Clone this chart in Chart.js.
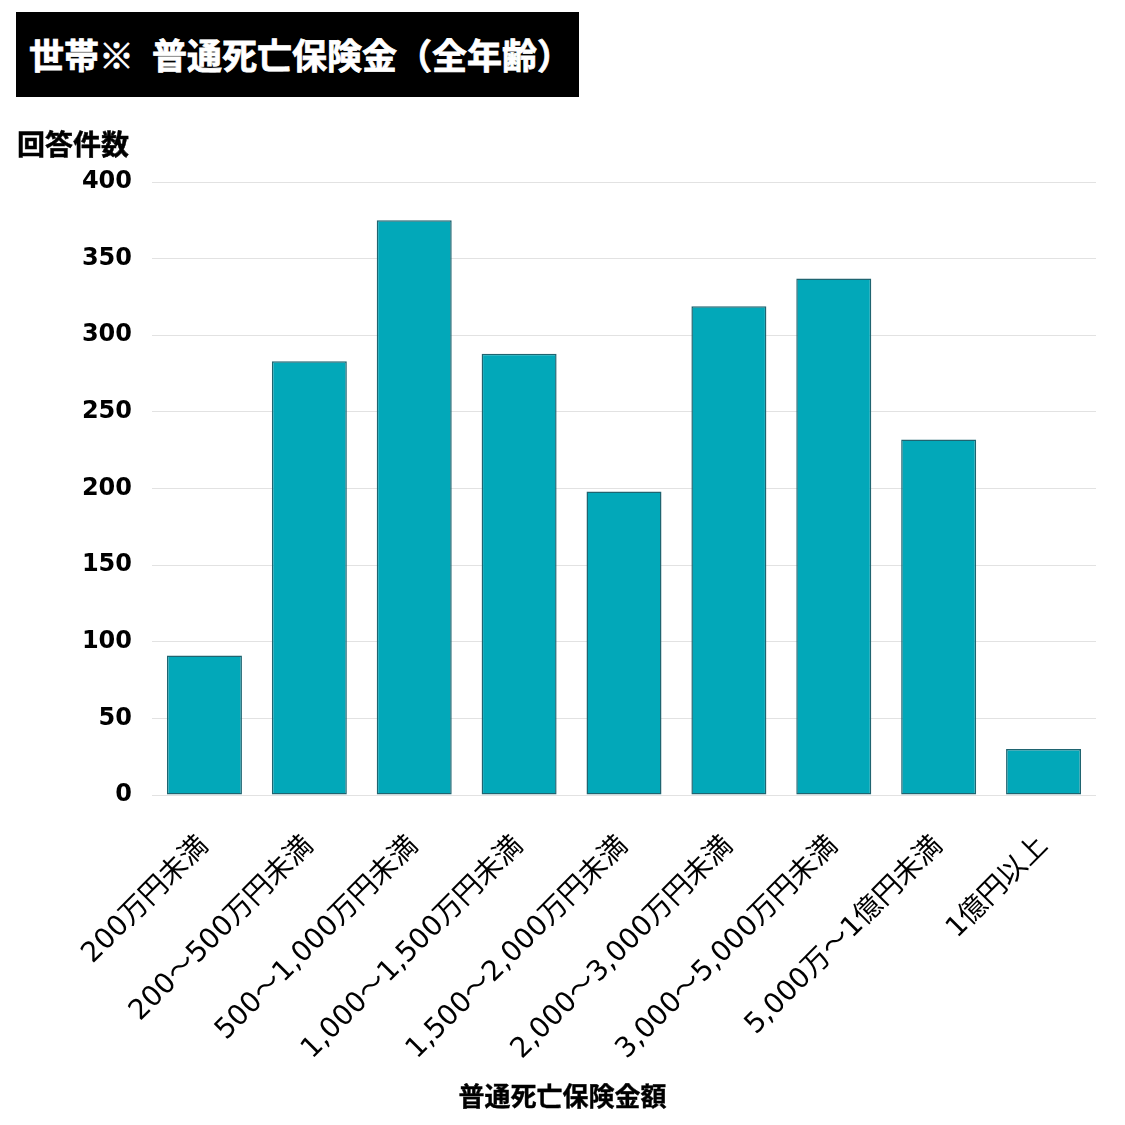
<!DOCTYPE html>
<html lang="ja">
<head>
  <meta charset="UTF-8">
  <title>世帯※ 普通死亡保険金（全年齢）</title>
  <script src="https://cdn.jsdelivr.net/npm/chart.js"></script>
  <style>
    html, body { margin: 0; padding: 0; background: #fff; }
    body { width: 1125px; height: 1125px; position: relative; overflow: hidden;
           font-family: "Noto Sans CJK JP", sans-serif; }
    #titulo { position: absolute; left: 16px; top: 12px; width: 563px; height: 85px;
              background: #000; color: #fff; font-weight: bold; font-size: 35px;
              -webkit-text-stroke: 0.8px #fff;
              line-height: 84px; padding-left: 13px; box-sizing: border-box; white-space: nowrap; }
    #titulo .sp { display: inline-block; width: 18px; }
    #ylabel { position: absolute; left: 17px; top: 124px; font-size: 28px; font-weight: bold;
              -webkit-text-stroke: 0.5px #000;
              line-height: 38px; color: #000; }
    #xlabel { position: absolute; left: 0; width: 1125px; text-align: center; top: 1076px;
              font-size: 26px; font-weight: bold; line-height: 38px; color: #000;
              -webkit-text-stroke: 0.4px #000; }
    #wrap { position: absolute; left: 0; top: 0; width: 1125px; height: 1125px; }
  </style>
</head>
<body>
  <div id="wrap"><canvas id="myChart" width="1125" height="1125"></canvas></div>
  <div id="titulo">世帯※<span class="sp"></span>普通死亡保険金（全年齢）</div>
  <div id="ylabel">回答件数</div>
  <div id="xlabel">普通死亡保険金額</div>

  <script>
    // datos
    const categorias = [
      '200万円未満',
      '200〜500万円未満',
      '500〜1,000万円未満',
      '1,000〜1,500万円未満',
      '1,500〜2,000万円未満',
      '2,000〜3,000万円未満',
      '3,000〜5,000万円未満',
      '5,000万〜1億円未満',
      '1億円以上'
    ];
    const conteos = [91, 283, 375, 288, 198, 319, 337, 232, 30];
    const yTicks = [0, 50, 100, 150, 200, 250, 300, 350, 400];

    const fuenteX = '"DejaVu Sans", "Noto Sans CJK JP", sans-serif';
    const fuenteY = '"DejaVu Sans", sans-serif';
    var ctx = document.getElementById('myChart').getContext('2d');

    var myChart = new Chart(ctx, {
      type: 'bar',
      data: {
        labels: categorias,
        datasets: [{
          label: '回答件数',
          data: conteos,
          backgroundColor: '#02a8b9',
          borderColor: '#1f6470',
          borderWidth: 1.5,
          borderSkipped: false,
          barPercentage: 0.715,
          categoryPercentage: 1.0
        }]
      },
      options: {
        responsive: false,
        animation: false,
        layout: { padding: { top: 182, right: 29, bottom: 0, left: 0 } },
        plugins: {
          legend: { display: false },
          tooltip: { enabled: false }
        },
        scales: {
          x: {
            grid: { display: false },
            border: { display: false },
            ticks: {
              color: '#000',
              font: { family: fuenteX, size: 28 },
              maxRotation: 45,
              minRotation: 45,
              padding: 27,
              autoSkip: false
            },
            afterFit: function (scale) { scale.height = 330; }
          },
          y: {
            min: 0,
            max: 400,
            afterBuildTicks: function (scale) {
              scale.ticks = yTicks.map(v => ({ value: v }));
            },
            grid: { color: '#e2e2e2', lineWidth: 1, drawTicks: false },
            border: { display: false },
            ticks: {
              color: '#000',
              font: { family: fuenteY, size: 24, weight: 'bold' },
              padding: 20
            },
            afterFit: function (scale) { scale.width = 152; }
          }
        }
      }
    });
  </script>
</body>
</html>
